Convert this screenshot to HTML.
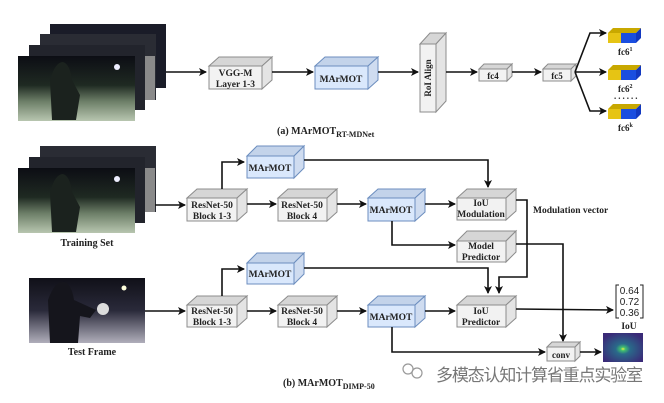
<!DOCTYPE html>
<html><head><meta charset="utf-8"><style>
html,body{margin:0;padding:0;background:#fff;}
svg{display:block;}
text{font-family:"Liberation Serif",serif;font-weight:bold;fill:#222;}
.g .f{fill:#f2f2f2;stroke:#8c8c8c;stroke-width:1}
.g .t{fill:#d6d6d6;stroke:#8c8c8c;stroke-width:1}
.g .s{fill:#e4e4e4;stroke:#8c8c8c;stroke-width:1}
.b .f{fill:#dae8fc;stroke:#6c8ebf;stroke-width:1}
.b .t{fill:#c3d3ea;stroke:#6c8ebf;stroke-width:1}
.b .s{fill:#cfdcf0;stroke:#6c8ebf;stroke-width:1}
.l{stroke:#111;stroke-width:1.6;fill:none}
</style></head><body>
<svg width="664" height="403" viewBox="0 0 664 403" xmlns="http://www.w3.org/2000/svg">
<defs>
<marker id="a" markerWidth="8" markerHeight="8" refX="7" refY="4" orient="auto" markerUnits="userSpaceOnUse"><path d="M0,0 L8,4 L0,8 L2,4 z" fill="#111"/></marker>
<linearGradient id="im" x1="0" y1="0" x2="0" y2="1"><stop offset="0" stop-color="#0c0d14"/><stop offset="0.45" stop-color="#1f2a22"/><stop offset="0.7" stop-color="#6d7f68"/><stop offset="1" stop-color="#b8c6b0"/></linearGradient>
<linearGradient id="im2" x1="0" y1="0" x2="0" y2="1"><stop offset="0" stop-color="#101018"/><stop offset="0.5" stop-color="#2a2a3a"/><stop offset="1" stop-color="#b0aebb"/></linearGradient>
<radialGradient id="hm" cx="0.5" cy="0.55" r="0.6"><stop offset="0" stop-color="#f0f040"/><stop offset="0.1" stop-color="#40c070"/><stop offset="0.3" stop-color="#2a6a8a"/><stop offset="1" stop-color="#3a2a78"/></radialGradient>
</defs>

<!-- top image stack -->
<rect x="50" y="24" width="116" height="64" fill="#1a1c28"/>
<rect x="40" y="34" width="116" height="66" fill="#2a2c34"/>
<rect x="29" y="45" width="116" height="65" fill="#22242c"/>
<rect x="18" y="56" width="117" height="65" fill="url(#im)"/>
<rect x="145" y="56" width="10" height="44" fill="#8a8a8a"/>
<path d="M52,120 L50,80 Q55,62 63,62 Q70,64 72,80 L80,95 L76,120 z" fill="#1b221e"/>
<circle cx="117" cy="67" r="3" fill="#eef"/>

<!-- bottom training stack -->
<rect x="40" y="146" width="116" height="66" fill="#2a2c34"/>
<rect x="29" y="157" width="116" height="66" fill="#22242c"/>
<rect x="18" y="168" width="117" height="65" fill="url(#im)"/>
<rect x="145" y="168" width="10" height="44" fill="#8a8a8a"/>
<path d="M52,232 L50,192 Q55,174 63,174 Q70,176 72,192 L80,207 L76,232 z" fill="#1b221e"/>
<circle cx="117" cy="179" r="3" fill="#eef"/>
<text x="87" y="246" font-size="10" text-anchor="middle">Training Set</text>

<!-- test frame -->
<rect x="29" y="278" width="116" height="65" fill="url(#im2)"/>
<path d="M50,343 L48,300 Q55,280 65,282 Q72,286 74,300 L96,310 L90,318 L80,316 L78,343 z" fill="#15151c"/>
<circle cx="103" cy="309" r="6" fill="#ddd"/>
<circle cx="124" cy="288" r="2.5" fill="#ffd"/>
<text x="92" y="355" font-size="10" text-anchor="middle">Test Frame</text>

<!-- ===== (a) ===== -->
<line class="l" x1="166" y1="72" x2="206" y2="72" marker-end="url(#a)"/>
<g class="g"><polygon class="t" points="209,66 219,57 272,57 262,66"/><polygon class="s" points="262,66 272,57 272,80 262,89"/><rect class="f" x="209" y="66" width="53" height="23"/></g>
<text x="235.5" y="76" font-size="9.5" text-anchor="middle">VGG-M</text>
<text x="235.5" y="87" font-size="9.5" text-anchor="middle">Layer 1-3</text>
<line class="l" x1="272" y1="72" x2="313" y2="72" marker-end="url(#a)"/>
<g class="b"><polygon class="t" points="315,66 325,57 378,57 368,66"/><polygon class="s" points="368,66 378,57 378,80 368,89"/><rect class="f" x="315" y="66" width="53" height="23"/></g>
<text x="341" y="82" font-size="9.5" text-anchor="middle">MArMOT</text>
<line class="l" x1="378" y1="72" x2="418" y2="72" marker-end="url(#a)"/>
<g class="g"><polygon class="t" points="420,44 430,33 446,33 436,44"/><polygon class="s" points="436,44 446,33 446,101 436,112"/><rect class="f" x="420" y="44" width="16" height="68"/></g>
<text x="431" y="78" font-size="9" text-anchor="middle" transform="rotate(-90 431 78)">RoI Align</text>
<line class="l" x1="446" y1="72" x2="477" y2="72" marker-end="url(#a)"/>
<g class="g"><polygon class="t" points="479,69 484,64 512,64 507,69"/><polygon class="s" points="507,69 512,64 512,76 507,81"/><rect class="f" x="479" y="69" width="28" height="12"/></g>
<text x="493" y="79" font-size="9" text-anchor="middle">fc4</text>
<line class="l" x1="512" y1="72" x2="541" y2="72" marker-end="url(#a)"/>
<g class="g"><polygon class="t" points="543,69 548,64 576,64 571,69"/><polygon class="s" points="571,69 576,64 576,76 571,81"/><rect class="f" x="543" y="69" width="28" height="12"/></g>
<text x="557" y="79" font-size="9" text-anchor="middle">fc5</text>
<polyline class="l" points="575,72 590,33 606,33" marker-end="url(#a)"/>
<line class="l" x1="575" y1="72" x2="606" y2="72" marker-end="url(#a)"/>
<polyline class="l" points="575,72 590,111 606,111" marker-end="url(#a)"/>
<g>
<polygon points="608,33 613,28 641,28 636,33" fill="#c8a800"/><polygon points="636,33 641,28 641,38 636,43" fill="#1238c0"/>
<rect x="608" y="33" width="13" height="10" fill="#e6c414"/><rect x="621" y="33" width="15" height="10" fill="#1a4ee0"/>
<polygon points="608,70 613,65 641,65 636,70" fill="#c8a800"/><polygon points="636,70 641,65 641,75 636,80" fill="#1238c0"/>
<rect x="608" y="70" width="13" height="10" fill="#e6c414"/><rect x="621" y="70" width="15" height="10" fill="#1a4ee0"/>
<polygon points="608,109 613,104 641,104 636,109" fill="#c8a800"/><polygon points="636,109 641,104 641,114 636,119" fill="#1238c0"/>
<rect x="608" y="109" width="13" height="10" fill="#e6c414"/><rect x="621" y="109" width="15" height="10" fill="#1a4ee0"/>
</g>
<text x="618" y="55" font-size="9">fc6<tspan font-size="6" dy="-4">1</tspan></text>
<text x="618" y="92" font-size="9">fc6<tspan font-size="6" dy="-4">2</tspan></text>
<text x="614" y="99" font-size="9" letter-spacing="2">......</text>
<text x="618" y="131" font-size="9">fc6<tspan font-size="6" dy="-4">k</tspan></text>
<text x="277" y="134" font-size="10">(a) MArMOT<tspan font-size="8" dy="3">RT-MDNet</tspan></text>

<!-- ===== (b) top row ===== -->
<line class="l" x1="155" y1="205" x2="185" y2="205" marker-end="url(#a)"/>
<g class="g"><polygon class="t" points="187,198 197,189 247,189 237,198"/><polygon class="s" points="237,198 247,189 247,212 237,221"/><rect class="f" x="187" y="198" width="50" height="23"/></g>
<text x="212" y="208" font-size="9.5" text-anchor="middle">ResNet-50</text>
<text x="212" y="219" font-size="9.5" text-anchor="middle">Block 1-3</text>
<polyline class="l" points="222,189 222,162 244,162" marker-end="url(#a)"/>
<g class="b"><polygon class="t" points="247,156 257,146 304,146 294,156"/><polygon class="s" points="294,156 304,146 304,168 294,178"/><rect class="f" x="247" y="156" width="47" height="22"/></g>
<text x="270" y="171" font-size="9.5" text-anchor="middle">MArMOT</text>
<polyline class="l" points="304,160 488,160 488,187" marker-end="url(#a)"/>
<line class="l" x1="247" y1="204" x2="276" y2="204" marker-end="url(#a)"/>
<g class="g"><polygon class="t" points="278,198 288,189 337,189 327,198"/><polygon class="s" points="327,198 337,189 337,212 327,221"/><rect class="f" x="278" y="198" width="49" height="23"/></g>
<text x="302" y="208" font-size="9.5" text-anchor="middle">ResNet-50</text>
<text x="302" y="219" font-size="9.5" text-anchor="middle">Block 4</text>
<line class="l" x1="337" y1="204" x2="366" y2="204" marker-end="url(#a)"/>
<g class="b"><polygon class="t" points="368,198 378,189 425,189 415,198"/><polygon class="s" points="415,198 425,189 425,212 415,221"/><rect class="f" x="368" y="198" width="47" height="23"/></g>
<text x="391" y="213" font-size="9.5" text-anchor="middle">MArMOT</text>
<line class="l" x1="425" y1="204" x2="455" y2="204" marker-end="url(#a)"/>
<g class="g"><polygon class="t" points="457,198 467,189 516,189 506,198"/><polygon class="s" points="506,198 516,189 516,211 506,220"/><rect class="f" x="457" y="198" width="49" height="22"/></g>
<text x="481" y="206" font-size="9.5" text-anchor="middle">IoU</text>
<text x="481" y="217" font-size="9.5" text-anchor="middle">Modulation</text>
<text x="533" y="213" font-size="9.5">Modulation vector</text>
<polyline class="l" points="392,221 392,245 455,245" marker-end="url(#a)"/>
<g class="g"><polygon class="t" points="457,241 467,231 516,231 506,241"/><polygon class="s" points="506,241 516,231 516,252 506,262"/><rect class="f" x="457" y="241" width="49" height="21"/></g>
<text x="481" y="249" font-size="9.5" text-anchor="middle">Model</text>
<text x="481" y="260" font-size="9.5" text-anchor="middle">Predictor</text>
<polyline class="l" points="516,200 527,200 527,277 499,277 499,293" marker-end="url(#a)"/>
<polyline class="l" points="516,244 563,244 563,341" marker-end="url(#a)"/>

<!-- ===== (b) bottom row ===== -->
<line class="l" x1="145" y1="311" x2="185" y2="311" marker-end="url(#a)"/>
<g class="g"><polygon class="t" points="187,305 197,296 247,296 237,305"/><polygon class="s" points="237,305 247,296 247,318 237,327"/><rect class="f" x="187" y="305" width="50" height="22"/></g>
<text x="212" y="314" font-size="9.5" text-anchor="middle">ResNet-50</text>
<text x="212" y="325" font-size="9.5" text-anchor="middle">Block 1-3</text>
<polyline class="l" points="222,296 222,269 244,269" marker-end="url(#a)"/>
<g class="b"><polygon class="t" points="247,263 257,253 304,253 294,263"/><polygon class="s" points="294,263 304,253 304,274 294,284"/><rect class="f" x="247" y="263" width="47" height="21"/></g>
<text x="270" y="277" font-size="9.5" text-anchor="middle">MArMOT</text>
<polyline class="l" points="304,268 488,268 488,293" marker-end="url(#a)"/>
<line class="l" x1="247" y1="311" x2="276" y2="311" marker-end="url(#a)"/>
<g class="g"><polygon class="t" points="278,305 288,296 337,296 327,305"/><polygon class="s" points="327,305 337,296 337,318 327,327"/><rect class="f" x="278" y="305" width="49" height="22"/></g>
<text x="302" y="314" font-size="9.5" text-anchor="middle">ResNet-50</text>
<text x="302" y="325" font-size="9.5" text-anchor="middle">Block 4</text>
<line class="l" x1="337" y1="311" x2="366" y2="311" marker-end="url(#a)"/>
<g class="b"><polygon class="t" points="368,305 378,296 425,296 415,305"/><polygon class="s" points="415,305 425,296 425,318 415,327"/><rect class="f" x="368" y="305" width="47" height="22"/></g>
<text x="391" y="320" font-size="9.5" text-anchor="middle">MArMOT</text>
<line class="l" x1="425" y1="311" x2="455" y2="311" marker-end="url(#a)"/>
<g class="g"><polygon class="t" points="457,305 467,296 516,296 506,305"/><polygon class="s" points="506,305 516,296 516,318 506,327"/><rect class="f" x="457" y="305" width="49" height="22"/></g>
<text x="481" y="314" font-size="9.5" text-anchor="middle">IoU</text>
<text x="481" y="325" font-size="9.5" text-anchor="middle">Predictor</text>
<line class="l" x1="516" y1="309" x2="613" y2="310" marker-end="url(#a)"/>
<g fill="none" stroke="#222" stroke-width="1"><polyline points="619,285 616,285 616,318 619,318"/><polyline points="640,285 643,285 643,318 640,318"/></g>
<text x="629.5" y="294" font-size="10" text-anchor="middle" style="font-family:'Liberation Sans',sans-serif;font-weight:normal">0.64</text>
<text x="629.5" y="305" font-size="10" text-anchor="middle" style="font-family:'Liberation Sans',sans-serif;font-weight:normal">0.72</text>
<text x="629.5" y="316" font-size="10" text-anchor="middle" style="font-family:'Liberation Sans',sans-serif;font-weight:normal">0.36</text>
<text x="629" y="329" font-size="9.5" text-anchor="middle">IoU</text>
<polyline class="l" points="392,327 392,352 545,352" marker-end="url(#a)"/>
<g class="g"><polygon class="t" points="547,347 552,342 580,342 575,347"/><polygon class="s" points="575,347 580,342 580,356 575,361"/><rect class="f" x="547" y="347" width="28" height="14"/></g>
<text x="561" y="358" font-size="9" text-anchor="middle">conv</text>
<line class="l" x1="580" y1="352" x2="601" y2="352" marker-end="url(#a)"/>
<rect x="603" y="333" width="40" height="29" fill="url(#hm)"/>

<!-- watermark -->
<g fill="none" stroke="#999" stroke-width="1.2"><circle cx="408" cy="369" r="5"/><circle cx="417" cy="373" r="5"/></g>
<text x="436" y="381" font-size="17" style="font-family:'Liberation Sans','Noto Sans CJK SC',sans-serif;font-weight:normal;fill:#777" textLength="207">多模态认知计算省重点实验室</text>

<text x="283" y="386" font-size="10">(b) MArMOT<tspan font-size="8" dy="3">DIMP-50</tspan></text>
</svg>
</body></html>
